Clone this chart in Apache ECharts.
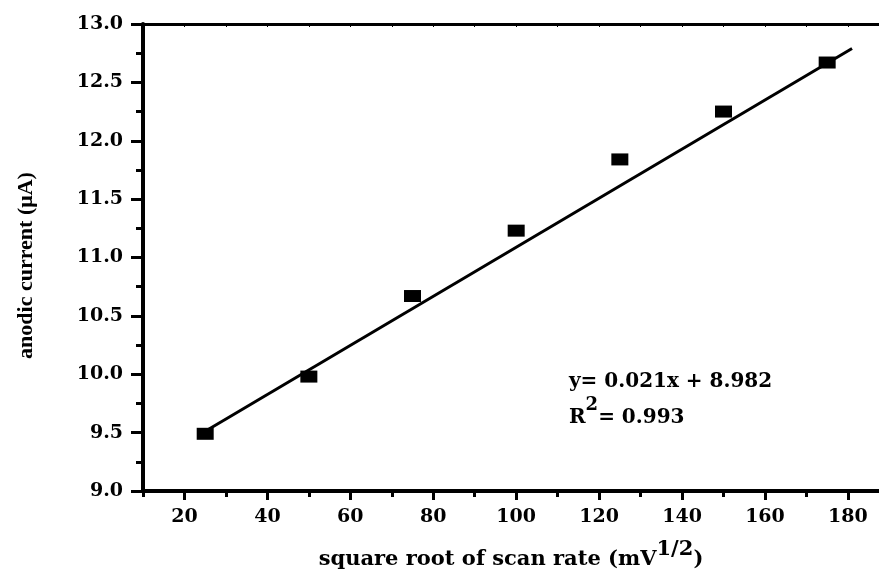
<!DOCTYPE html>
<html>
<head>
<meta charset="utf-8">
<script src="https://cdn.jsdelivr.net/npm/echarts@6/dist/echarts.min.js"></script>
<style>
  html, body { margin: 0; padding: 0; background: #fff; }
  #chart { width: 879px; height: 577px; }
</style>
</head>
<body>
<div id="chart"></div>
<script>
// measured points
const scanRoot = [25, 50, 75, 100, 125, 150, 175];
const anodicCurrent = [9.49, 9.98, 10.67, 11.23, 11.84, 12.25, 12.67];
// fitted line ends, y = 0.021x + 8.982
const fitX = [24, 181];
const fitY = [9.49, 12.79];
const xMajorTicks = [20, 40, 60, 80, 100, 120, 140, 160, 180];
const xMinorTicks = [10, 30, 50, 70, 90, 110, 130, 150, 170];
const equationText = "y= 0.021x + 8.982";
const r2Text = "= 0.993";

const serif = "DejaVu Serif";
const chart = echarts.init(document.getElementById("chart"));

const option = {
  backgroundColor: "#fff",
  animation: false,
  grid: { left: 143, top: 24, right: 0, bottom: 86 },
  xAxis: [
    {
      type: "value",
      min: 10,
      max: 187.5,
      position: "bottom",
      name: "{a|square root of scan rate (mV}{s|1/2}{a|)}",
      nameLocation: "middle",
      nameGap: 48,
      nameTextStyle: {
        rich: {
          a: { fontFamily: serif, fontWeight: "bold", fontSize: 21, color: "#000" },
          s: { fontFamily: serif, fontWeight: "bold", fontSize: 21, color: "#000", padding: [0, 0, 20, 0] }
        }
      },
      axisLine: { show: true, onZero: false, lineStyle: { color: "#000", width: 4 } },
      axisTick: { show: true, customValues: xMajorTicks, length: 9, lineStyle: { color: "#000", width: 3 } },
      axisLabel: {
        customValues: xMajorTicks,
        margin: 17,
        fontFamily: serif, fontWeight: "bold", fontSize: 19, color: "#000"
      },
      splitLine: { show: false }
    },
    {
      type: "value",
      min: 10,
      max: 187.5,
      position: "bottom",
      axisLine: { show: false, onZero: false },
      axisTick: { show: true, customValues: xMinorTicks, length: 6, lineStyle: { color: "#000", width: 3 } },
      axisLabel: { show: false },
      splitLine: { show: false }
    },
    {
      type: "value",
      min: 10,
      max: 187.5,
      position: "top",
      axisLine: { show: true, onZero: false, lineStyle: { color: "#000", width: 3 } },
      axisTick: { show: true, inside: true, customValues: xMajorTicks.concat(xMinorTicks), length: 3, lineStyle: { color: "#000", width: 1 } },
      axisLabel: { show: false },
      splitLine: { show: false }
    }
  ],
  yAxis: {
    type: "value",
    min: 9,
    max: 13,
    interval: 0.5,
    name: "anodic current (μA)",
    nameLocation: "middle",
    nameRotate: 90,
    nameGap: 106,
    nameTextStyle: { fontFamily: "Liberation Serif", fontWeight: "bold", fontSize: 22, color: "#000", padding: [0, 16, 0, 0] },
    axisLine: { show: true, onZero: false, lineStyle: { color: "#000", width: 4 } },
    axisTick: { show: true, length: 12, lineStyle: { color: "#000", width: 3 } },
    minorTick: { show: true, splitNumber: 2, length: 7, lineStyle: { color: "#000", width: 3 } },
    axisLabel: {
      margin: 20,
      formatter: v => v.toFixed(1),
      fontFamily: serif, fontWeight: "bold", fontSize: 19, color: "#000"
    },
    splitLine: { show: false }
  },
  series: [
    {
      type: "line",
      data: fitX.map((x, i) => [x, fitY[i]]),
      showSymbol: false,
      symbol: "none",
      lineStyle: { color: "#000", width: 3 },
      z: 2
    },
    {
      type: "scatter",
      data: scanRoot.map((x, i) => [x, anodicCurrent[i]]),
      symbol: "rect",
      symbolSize: [17, 12],
      itemStyle: { color: "#000", opacity: 1 },
      z: 3
    }
  ],
  graphic: [
    {
      type: "text",
      left: 569,
      top: 372,
      style: { text: equationText, font: "bold 20px 'DejaVu Serif'", fill: "#000" }
    },
    {
      type: "text",
      left: 569,
      top: 396,
      style: {
        text: "{a|R}{s|2}{a|" + r2Text + "}",
        rich: {
          a: { fontFamily: serif, fontWeight: "bold", fontSize: 20, fill: "#000" },
          s: { fontFamily: serif, fontWeight: "bold", fontSize: 18, fill: "#000", padding: [0, 0, 26, 0] }
        }
      }
    }
  ]
};

chart.setOption(option);
</script>
</body>
</html>
